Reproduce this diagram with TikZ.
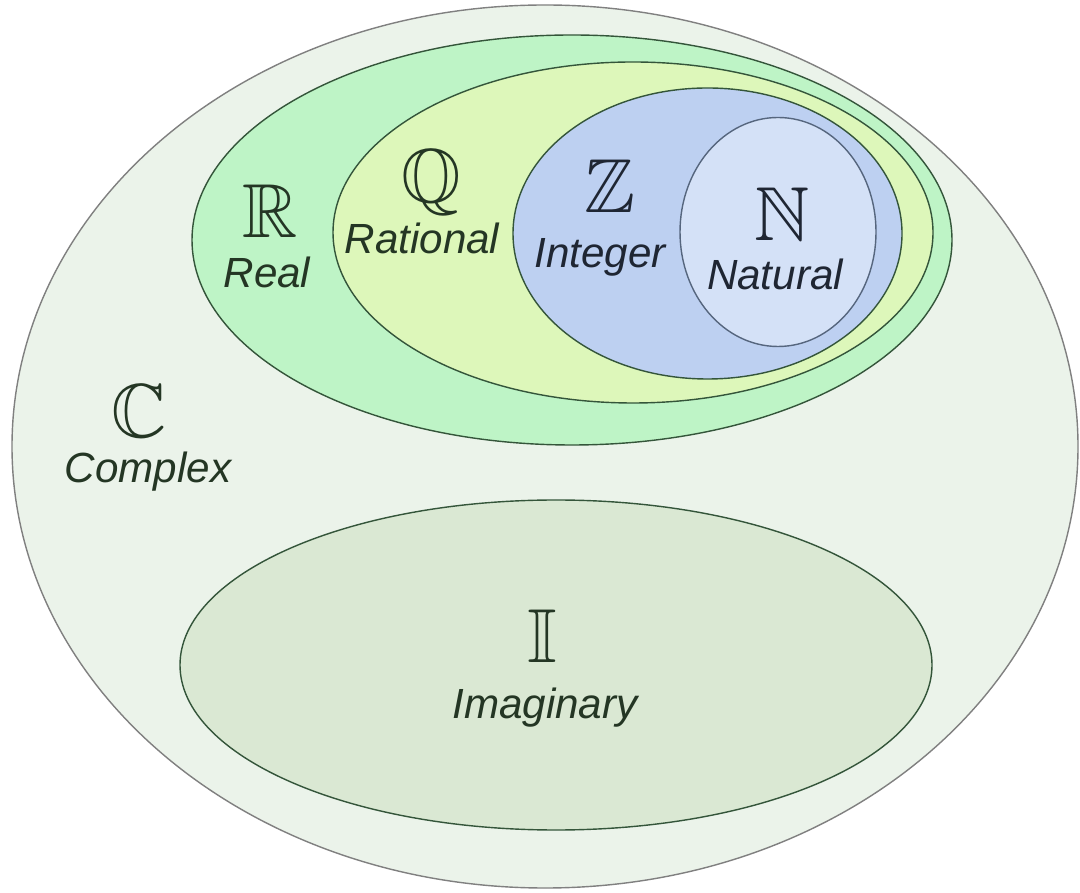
\documentclass[tikz,border=0pt]{standalone}
\usepackage{fontspec}
\setmainfont{Liberation Sans}
\usepackage{amssymb}
\usepackage{graphicx}
\usetikzlibrary{shapes.geometric}

\definecolor{cplxfill}{HTML}{EBF3EA}
\definecolor{realfill}{HTML}{BEF4C6}
\definecolor{ratfill}{HTML}{DDF7BA}
\definecolor{intfill}{HTML}{BDD0F1}
\definecolor{natfill}{HTML}{D4E1F7}
\definecolor{imagfill}{HTML}{DAE8D3}
\definecolor{setedge}{HTML}{34553A}
\definecolor{natedge}{HTML}{56667E}
\definecolor{ink}{HTML}{243624}
\definecolor{blueink}{HTML}{1F2633}

\newcommand{\bbsym}[1]{\scalebox{1.75}{\fontsize{24.88}{26}\selectfont$\mathbb{#1}$}}

\begin{document}
\begin{tikzpicture}[set/.style={ellipse, draw=setedge, line width=0.8pt, inner sep=0pt, outer sep=0pt},
    word/.style={font=\fontsize{24}{28}\selectfont\itshape, text=ink, inner sep=0pt},
    sym/.style={text=ink, inner sep=0pt}]
  \useasboundingbox[fill=white] (0,0) rectangle (21.6,17.84);

  % the sets, outermost first
  \node[set, draw=gray, fill=cplxfill, minimum width=21.32cm, minimum height=17.66cm] (C) at (10.9,8.91) {};
  \node[set, fill=realfill, minimum width=15.2cm, minimum height=8.2cm] (R) at (11.44,13.04) {};
  \node[set, fill=ratfill, minimum width=12.0cm, minimum height=6.82cm] (Q) at (12.66,13.19) {};
  \node[set, fill=intfill, minimum width=7.78cm, minimum height=5.82cm] (Z) at (14.15,13.17) {};
  \node[set, draw=natedge, fill=natfill, minimum width=3.92cm, minimum height=4.58cm] (N) at (15.56,13.2) {};
  \node[set, fill=imagfill, minimum width=15.04cm, minimum height=6.6cm] (I) at (11.12,4.54) {};

  % labels
  \node[sym] (rsym) at (5.4,13.62) {\bbsym{R}};
  \node[word] (rtxt) at (5.34,12.4) {Real};
  \node[sym] (qsym) at (8.62,14.18) {\bbsym{Q}};
  \node[word] (qtxt) at (8.44,13.08) {Rational};
  \node[sym, text=blueink] (zsym) at (12.2,14.12) {\bbsym{Z}};
  \node[word, text=blueink] (ztxt) at (12.0,12.7) {Integer};
  \node[sym, text=blueink] (nsym) at (15.64,13.56) {\bbsym{N}};
  \node[word, text=blueink] (ntxt) at (15.5,12.36) {Natural};
  \node[sym] (csym) at (2.78,9.62) {\bbsym{C}};
  \node[word] (ctxt) at (2.96,8.4) {Complex};
  \node[sym] (isym) at (10.84,5.12) {\bbsym{I}};
  \node[word] (itxt) at (10.9,3.68) {Imaginary};
\end{tikzpicture}
\end{document}
